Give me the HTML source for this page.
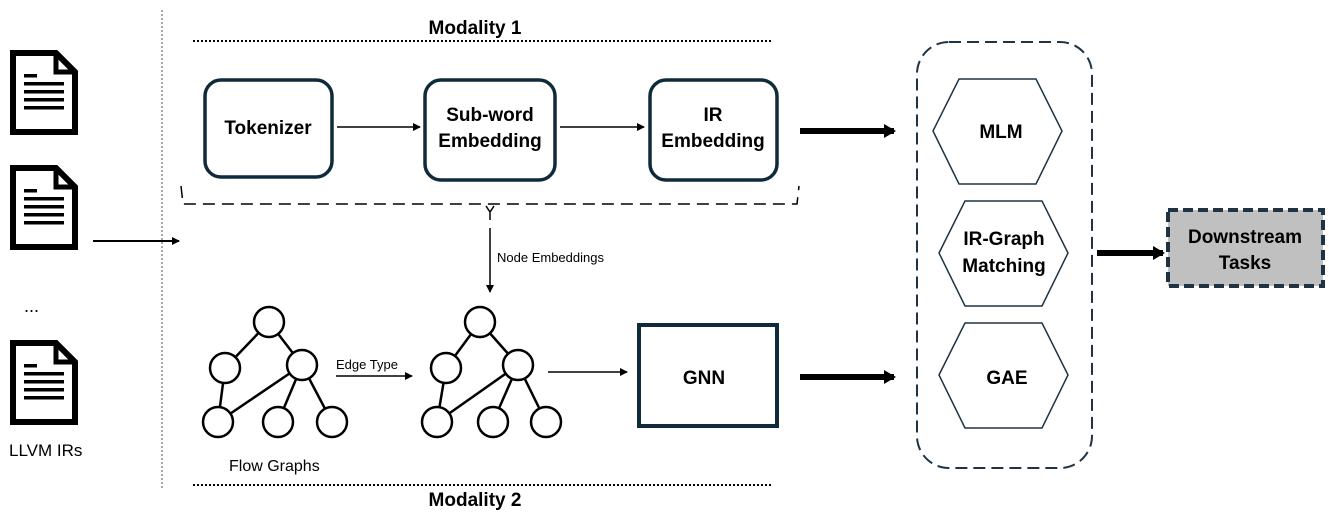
<!DOCTYPE html>
<html><head><meta charset="utf-8"><style>
html,body{margin:0;padding:0;background:#fff;}
svg{display:block;font-family:"Liberation Sans",sans-serif;}
.b{font-weight:bold;font-size:19px;fill:#000;}
</style></head><body>
<svg width="1329" height="514" viewBox="0 0 1329 514" xmlns="http://www.w3.org/2000/svg">
<defs>
<marker id="ah" markerWidth="8" markerHeight="8" refX="7" refY="4" orient="auto" markerUnits="userSpaceOnUse"><path d="M0,0 L8,4 L0,8 z" fill="#000"/></marker>
<marker id="ahb" markerWidth="12" markerHeight="14" refX="10" refY="7" orient="auto" markerUnits="userSpaceOnUse"><path d="M0,0 L12,7 L0,14 z" fill="#000"/></marker>
<g id="doc">
<path d="M3,3 L46,3 L65,22 L65,82 L3,82 Z" fill="#fff" stroke="#000" stroke-width="6" stroke-linejoin="miter"/>
<path d="M46,3 L46,22 L65,22" fill="none" stroke="#000" stroke-width="5"/>
<rect x="14" y="24" width="13" height="3.5" fill="#000"/>
<rect x="14" y="32" width="40" height="3.5" fill="#000"/>
<rect x="14" y="40" width="40" height="3.5" fill="#000"/>
<rect x="14" y="48" width="40" height="3.5" fill="#000"/>
<rect x="14" y="56" width="40" height="3.5" fill="#000"/>
</g>
</defs>

<!-- docs -->
<use href="#doc" x="10" y="50"/>
<use href="#doc" x="10" y="165"/>
<use href="#doc" x="10" y="340"/>
<text x="24" y="312" font-size="18">...</text>
<text x="9" y="456" font-size="17">LLVM IRs</text>

<line x1="162" y1="10" x2="162" y2="490" stroke="#555" stroke-width="1" stroke-dasharray="2,2"/>
<line x1="93" y1="241" x2="179" y2="241" stroke="#000" stroke-width="2" marker-end="url(#ah)"/>

<!-- modality 1 -->
<text x="475" y="34" class="b" text-anchor="middle" font-size="18">Modality 1</text>
<line x1="193" y1="41" x2="773" y2="41" stroke="#000" stroke-width="2" stroke-dasharray="2,2"/>
<text x="475" y="506" class="b" text-anchor="middle" font-size="18">Modality 2</text>
<line x1="193" y1="485" x2="773" y2="485" stroke="#000" stroke-width="2" stroke-dasharray="2,2"/>

<rect x="205" y="80" width="127" height="97" rx="16" fill="#fff" stroke="#0f2a3a" stroke-width="3.5"/>
<text x="268" y="134" class="b" text-anchor="middle">Tokenizer</text>
<rect x="425" y="80" width="130" height="100" rx="16" fill="#fff" stroke="#0f2a3a" stroke-width="3.5"/>
<text x="490" y="121" class="b" text-anchor="middle">Sub-word</text>
<text x="490" y="147" class="b" text-anchor="middle">Embedding</text>
<rect x="650" y="80" width="127" height="100" rx="16" fill="#fff" stroke="#0f2a3a" stroke-width="3.5"/>
<text x="713" y="121" class="b" text-anchor="middle">IR</text>
<text x="713" y="147" class="b" text-anchor="middle">Embedding</text>
<line x1="337" y1="127" x2="420" y2="127" stroke="#000" stroke-width="1.5" marker-end="url(#ah)"/>
<line x1="560" y1="127" x2="644" y2="127" stroke="#000" stroke-width="1.5" marker-end="url(#ah)"/>

<!-- bracket -->
<path d="M181,186 L183,204 L797,204 L799,186" fill="none" stroke="#000" stroke-width="1.5" stroke-dasharray="12,7"/>
<path d="M486,206 L490,212 L494,206 M490,212 L490,220" fill="none" stroke="#000" stroke-width="1.5"/>
<line x1="490" y1="228" x2="490" y2="292" stroke="#000" stroke-width="1.5" marker-end="url(#ah)"/>
<text x="497" y="262" font-size="13">Node Embeddings</text>

<!-- graph 1 -->
<g stroke="#000" stroke-width="2.5" fill="#fff">
<line x1="269" y1="322" x2="225" y2="368"/><line x1="269" y1="322" x2="302" y2="365"/>
<line x1="225" y1="368" x2="218" y2="422"/><line x1="302" y1="365" x2="218" y2="422"/>
<line x1="302" y1="365" x2="278" y2="422"/><line x1="302" y1="365" x2="332" y2="422"/>
<circle cx="269" cy="322" r="15"/><circle cx="225" cy="368" r="15"/><circle cx="302" cy="365" r="15"/>
<circle cx="218" cy="422" r="15"/><circle cx="278" cy="422" r="15"/><circle cx="332" cy="422" r="15"/>
</g>
<text x="229" y="471" font-size="16">Flow Graphs</text>
<text x="336" y="369" font-size="13">Edge Type</text>
<line x1="336" y1="376" x2="412" y2="376" stroke="#000" stroke-width="1.5" marker-end="url(#ah)"/>

<!-- graph 2 -->
<g stroke="#000" stroke-width="2.5" fill="#fff">
<line x1="480" y1="322" x2="446" y2="368"/><line x1="480" y1="322" x2="518" y2="365"/>
<line x1="446" y1="368" x2="437" y2="422"/><line x1="518" y1="365" x2="437" y2="422"/>
<line x1="518" y1="365" x2="493" y2="422"/><line x1="518" y1="365" x2="546" y2="422"/>
<circle cx="480" cy="322" r="15"/><circle cx="446" cy="368" r="15"/><circle cx="518" cy="365" r="15"/>
<circle cx="437" cy="422" r="15"/><circle cx="493" cy="422" r="15"/><circle cx="546" cy="422" r="15"/>
</g>
<line x1="548" y1="372" x2="627" y2="372" stroke="#000" stroke-width="1.5" marker-end="url(#ah)"/>

<rect x="639" y="325" width="138" height="101" fill="#fff" stroke="#0f2a3a" stroke-width="4"/>
<text x="704" y="384" class="b" text-anchor="middle">GNN</text>

<!-- thick arrows -->
<line x1="800" y1="131" x2="894" y2="131" stroke="#000" stroke-width="6" marker-end="url(#ahb)"/>
<line x1="800" y1="377" x2="894" y2="377" stroke="#000" stroke-width="6" marker-end="url(#ahb)"/>
<line x1="1097" y1="253" x2="1163" y2="253" stroke="#000" stroke-width="6" marker-end="url(#ahb)"/>

<!-- right container -->
<rect x="917" y="42" width="175" height="426" rx="32" fill="none" stroke="#1e3444" stroke-width="2" stroke-dasharray="12,6"/>
<polygon points="933,131 959,79 1036,79 1062,131 1036,184 959,184" fill="#fff" stroke="#1e3444" stroke-width="1.5"/>
<text x="1001" y="138" class="b" text-anchor="middle">MLM</text>
<polygon points="939,253 965,201 1042,201 1068,253 1042,306 965,306" fill="#fff" stroke="#1e3444" stroke-width="1.5"/>
<text x="1004" y="245" class="b" text-anchor="middle">IR-Graph</text>
<text x="1004" y="272" class="b" text-anchor="middle">Matching</text>
<polygon points="939,375 965,323 1042,323 1068,375 1042,428 965,428" fill="#fff" stroke="#1e3444" stroke-width="1.5"/>
<text x="1007" y="384" class="b" text-anchor="middle">GAE</text>

<rect x="1168" y="210" width="155" height="76" fill="#c0c0c0" stroke="#1e3444" stroke-width="4" stroke-dasharray="10,5"/>
<text x="1245" y="243" class="b" text-anchor="middle">Downstream</text>
<text x="1245" y="269" class="b" text-anchor="middle">Tasks</text>
</svg>
</body></html>
